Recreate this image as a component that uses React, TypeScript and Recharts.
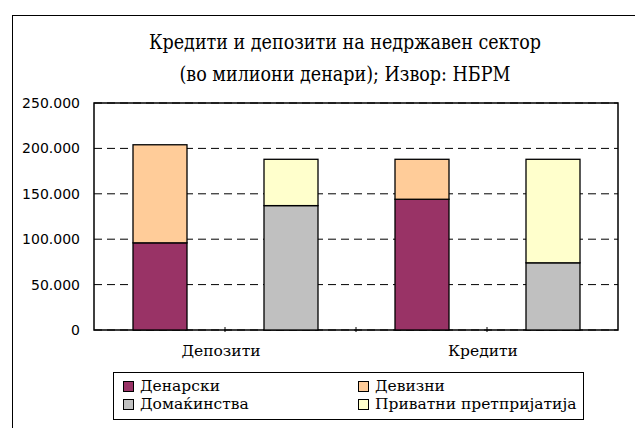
import React from 'react';
import { BarChart, Bar, XAxis, YAxis, CartesianGrid, ReferenceArea } from 'recharts';

const titleLines = ['Кредити и депозити на недржавен сектор', '(во милиони денари); Извор: НБРМ'];
const categories = ['Депозити-1', 'Депозити-2', 'Кредити-1', 'Кредити-2'];
const groups = ['Депозити', 'Депозити', 'Кредити', 'Кредити'];
const denarski = [96000, null, 144000, null];
const devizni = [108000, null, 44000, null];
const domakinstva = [null, 137000, null, 74000];
const privatni = [null, 51000, null, 114000];
const yTicks = [0, 50000, 100000, 150000, 200000, 250000];

const series = [
  { key: 'denarski', name: 'Денарски', color: '#993366', values: denarski },
  { key: 'devizni', name: 'Девизни', color: '#FFCC99', values: devizni },
  { key: 'domakinstva', name: 'Домаќинства', color: '#C0C0C0', values: domakinstva },
  { key: 'privatni', name: 'Приватни претпријатија', color: '#FFFFCC', values: privatni },
];
const legendOrder = ['denarski', 'devizni', 'domakinstva', 'privatni'];

const data = categories.map((c, i) => {
  const row: any = { cat: c, group: groups[i] };
  series.forEach((s) => { row[s.key] = s.values[i]; });
  return row;
});

const fmt = (v: number) => (v === 0 ? '0' : v.toLocaleString('de-DE'));

const BarShape = (props: any) => {
  const { x, y, width, height, fill, payload, dataKey } = props;
  if (payload == null || payload[dataKey] == null || !height) return <g />;
  return <rect x={x} y={y} width={width} height={height} fill={fill} stroke="#000" strokeWidth={1.3} />;
};

const MainTick = (props: any) => {
  const { x, y, payload } = props;
  const off = payload && payload.offset ? payload.offset : 0;
  if (payload.index >= categories.length - 1) return <g />;
  return <line x1={x + off} x2={x + off} y1={y} y2={y - 5} stroke="#000" strokeWidth={1} />;
};

const GroupTick = (props: any) => {
  const { x, y, payload } = props;
  return (
    <text x={x - 4} y={y + 25} textAnchor="middle" fontFamily="DejaVu Serif" fontSize={15.5} fill="#000">
      {payload.value}
    </text>
  );
};

export default function App() {
  return (
    <div style={{ position: 'fixed', left: 0, top: 0, width: 635, height: 428, overflow: 'hidden', background: '#fff' }}>
      <div style={{ position: 'absolute', left: 12, top: 15, width: 700, height: 500, border: '1px solid #000' }} />
      <div style={{ position: 'absolute', left: 0, top: 27, width: 690, textAlign: 'center', fontFamily: 'DejaVu Serif Condensed', fontSize: 19.5, lineHeight: '32px', color: '#000' }}>
        {titleLines.map((t) => <div key={t}>{t}</div>)}
      </div>
      <div style={{ position: 'absolute', left: 0, top: 0 }}>
        <BarChart width={635} height={428} data={data} margin={{ top: 103, right: 17, bottom: 77, left: 14 }} barSize={54}>
          <CartesianGrid horizontal vertical={false} stroke="#000" strokeDasharray="8 5" yAxisId="y" xAxisId="c" />
          <XAxis xAxisId="c" dataKey="cat" height={1} axisLine={false} tickLine={false} tickSize={0} tick={<MainTick />} interval={0} />
          <XAxis xAxisId="g" dataKey="group" allowDuplicatedCategory={false} height={20} axisLine={false} tickLine={false} tickSize={0} tickMargin={0} tick={<GroupTick />} interval={0} />
          <YAxis yAxisId="y" width={80} domain={[0, 250000]} ticks={yTicks} tickFormatter={fmt} axisLine={false} tickLine={false} tickSize={0} tickMargin={14} tick={{ fontFamily: 'DejaVu Sans', fontSize: 14, fill: '#000' }} interval={0} />
          {series.map((s) => (
            <Bar key={s.key} dataKey={s.key} name={s.name} stackId="s" xAxisId="c" yAxisId="y" fill={s.color} isAnimationActive={false} shape={<BarShape />} />
          ))}
          <ReferenceArea xAxisId="c" yAxisId="y" y1={0} y2={250000} fill="none" fillOpacity={0} stroke="#000" strokeOpacity={1} strokeWidth={1.5} ifOverflow="visible" />
        </BarChart>
      </div>
      <div style={{ position: 'absolute', left: 113, top: 372, width: 469, height: 46, border: '1px solid #000', fontFamily: 'DejaVu Serif', fontSize: 15.5, color: '#000' }}>
        <div style={{ display: 'grid', gridTemplateColumns: '235px 230px', paddingLeft: 9, paddingTop: 4, rowGap: 0, lineHeight: '18px' }}>
          {legendOrder.map((k) => {
            const s = series.find((x) => x.key === k)!;
            return (
              <div key={k} style={{ display: 'flex', alignItems: 'center', whiteSpace: 'nowrap' }}>
                <span style={{ display: 'inline-block', width: 9, height: 9, background: s.color, border: '1px solid #000', marginRight: 6 }} />
                <span>{s.name}</span>
              </div>
            );
          })}
        </div>
      </div>
    </div>
  );
}
